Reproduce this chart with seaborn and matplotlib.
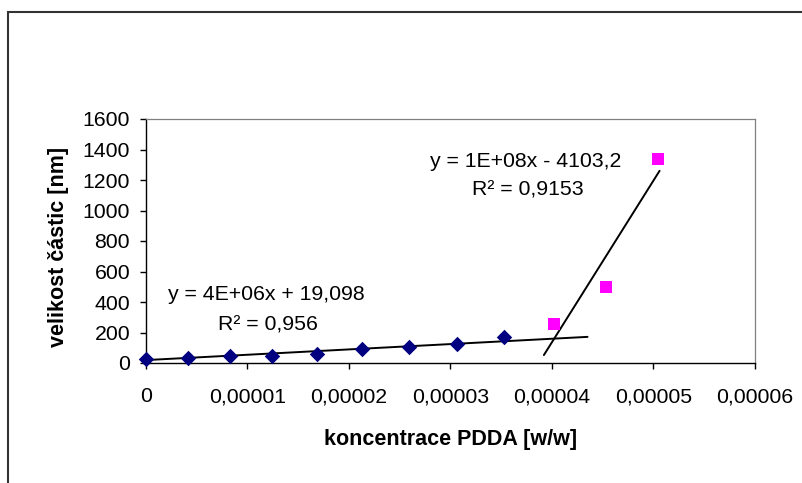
import matplotlib
matplotlib.use("Agg")
import matplotlib.pyplot as plt
from matplotlib.patches import Rectangle
from matplotlib.ticker import FuncFormatter
import numpy as np
import pandas as pd
import seaborn as sns

# PDDA concentration [w/w] and particle size [nm]
conc_low = [0.0, 4.12e-6, 8.29e-6, 1.24e-5, 1.68e-5, 2.13e-5, 2.59e-5, 3.06e-5, 3.53e-5]
size_low = [24, 34, 48, 48, 62, 90, 105, 127, 170]
conc_high = [4.015e-5, 4.53e-5, 5.04e-5]
size_high = [254, 500, 1340]

# linear trendlines y = k*x + q and their spans
k_low, q_low, r2_low = 3.5e6, 19.098, 0.956
k_high, q_high, r2_high = 1.06e8, -4103.2, 0.9153
span_low = [0.0, 4.35e-5]
span_high = [3.92e-5, 5.06e-5]

x_ticks = [0, 1e-5, 2e-5, 3e-5, 4e-5, 5e-5, 6e-5]
y_ticks = [0, 200, 400, 600, 800, 1000, 1200, 1400, 1600]

sns.set_theme(style="white")
plt.rcParams["font.family"] = ["Liberation Sans", "DejaVu Sans"]
plt.rcParams["text.color"] = "black"
plt.rcParams["axes.labelcolor"] = "black"
plt.rcParams["xtick.color"] = "black"
plt.rcParams["ytick.color"] = "black"

FS = 15.3

fig = plt.figure(figsize=(8.03, 4.83), dpi=100)
ax = fig.add_axes([146 / 803, 1 - 363 / 483, 609 / 803, 244 / 483])

low = pd.DataFrame({"conc": conc_low, "size": size_low})
high = pd.DataFrame({"conc": conc_high, "size": size_high})

def trend(span, k, q):
    xs = np.array(span)
    return pd.DataFrame({"conc": xs, "size": k * xs + q})

sns.lineplot(data=trend(span_low, k_low, q_low), x="conc", y="size",
             color="black", linewidth=1.4, sort=False, estimator=None, ax=ax, zorder=2)
sns.lineplot(data=trend(span_high, k_high, q_high), x="conc", y="size",
             color="black", linewidth=1.4, sort=False, estimator=None, ax=ax, zorder=2)

sns.scatterplot(data=low, x="conc", y="size", marker="D", color="#000080",
                s=62, linewidth=0, ax=ax, zorder=3, clip_on=False)
sns.scatterplot(data=high, x="conc", y="size", marker="s", color="#FF00FF",
                s=78, linewidth=0, ax=ax, zorder=3, clip_on=False)

ax.set_xlim(0, 6e-5)
ax.set_ylim(0, 1600)
ax.set_xticks(x_ticks)
ax.set_yticks(y_ticks)

def comma_num(v, pos=None):
    if abs(v) < 1e-12:
        return "0"
    if v < 1e-3:
        return f"{v:.5f}".replace(".", ",")
    return f"{v:g}".replace(".", ",")

ax.xaxis.set_major_formatter(FuncFormatter(comma_num))
ax.yaxis.set_major_formatter(FuncFormatter(comma_num))

ax.tick_params(axis="both", which="major", direction="out", length=4.3, width=1.0,
               color="black", labelsize=FS, labelcolor="black", bottom=True, left=True)
ax.tick_params(axis="y", pad=7.2)
ax.tick_params(axis="x", pad=13)

for side in ("left", "bottom"):
    ax.spines[side].set_color("black")
    ax.spines[side].set_linewidth(1.0)
for side in ("top", "right"):
    ax.spines[side].set_color("#808080")
    ax.spines[side].set_linewidth(0.9)
ax.grid(False)
ax.set_facecolor("white")

ax.set_xlabel("koncentrace PDDA [w/w]", fontsize=15.5, fontweight="bold", va="center")
ax.xaxis.set_label_coords(0.5008, -0.3115)
ax.set_ylabel("velikost částic [nm]", fontsize=15.5, fontweight="bold", va="center")
ax.yaxis.set_label_coords(-0.143, 0.475)

def eq_text(k, q):
    sign = "+" if q >= 0 else "-"
    qs = f"{abs(q):.5g}".replace(".", ",")
    return f"y = {k:.0E}x {sign} {qs}"

def r2_text(r2):
    return "R² = " + f"{r2:g}".replace(".", ",")

ax.text(0.197, 0.279, eq_text(k_low, q_low), transform=ax.transAxes,
        ha="center", va="center", fontsize=FS)
ax.text(0.200, 0.156, r2_text(r2_low), transform=ax.transAxes,
        ha="center", va="center", fontsize=FS)
ax.text(0.624, 0.824, eq_text(k_high, q_high), transform=ax.transAxes,
        ha="center", va="center", fontsize=FS)
ax.text(0.627, 0.709, r2_text(r2_high), transform=ax.transAxes,
        ha="center", va="center", fontsize=FS)

# chart-area frame
fig.add_artist(Rectangle((8.3 / 803, -0.2), 1.2, 1.2 - 12.3 / 483,
                         transform=fig.transFigure, fill=False,
                         edgecolor="#333333", linewidth=1.5, clip_on=False))

fig.savefig("out.png", dpi=100, facecolor="white")
